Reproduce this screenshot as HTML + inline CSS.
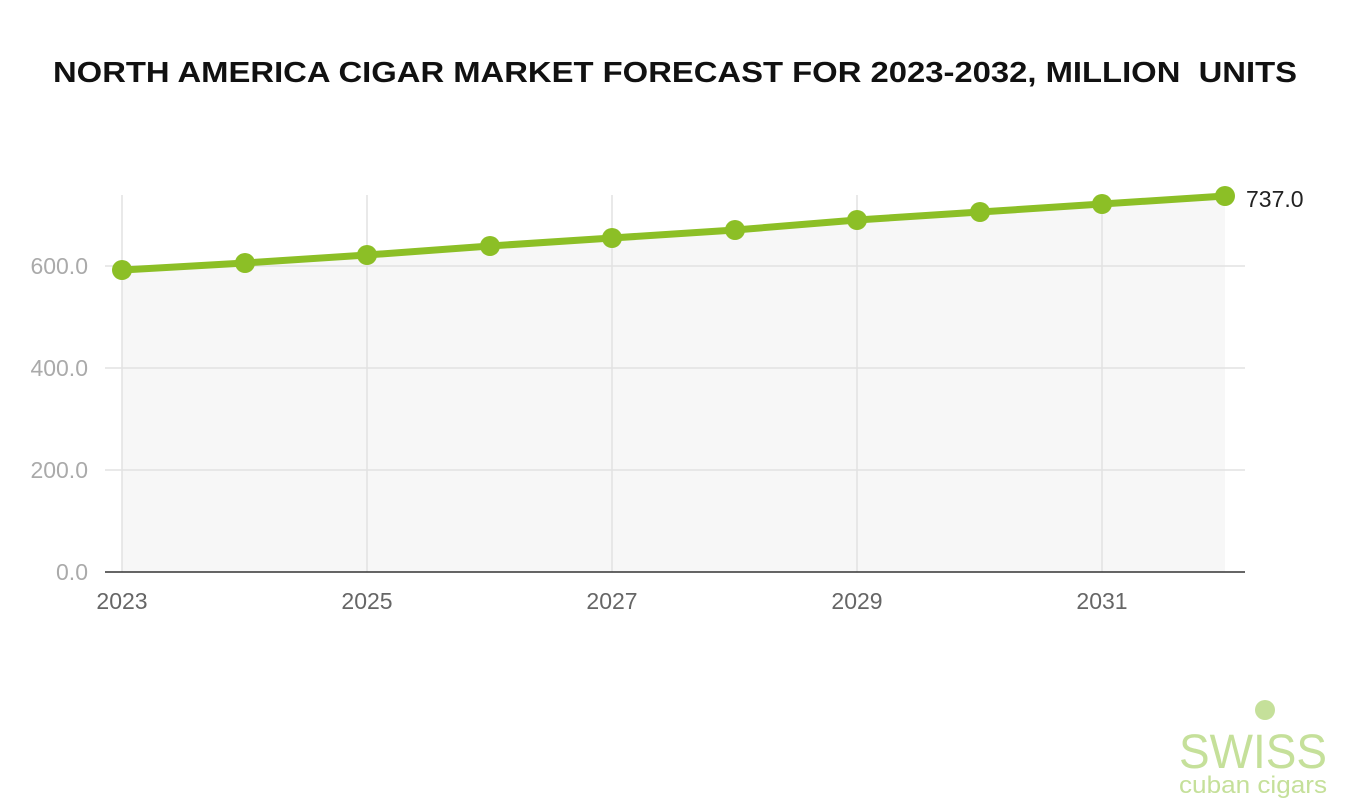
<!DOCTYPE html>
<html><head><meta charset="utf-8"><style>
body{margin:0;background:#fff;}
svg{display:block;font-family:"Liberation Sans",sans-serif;}
</style></head><body>
<svg width="1356" height="804" viewBox="0 0 1356 804">
<rect width="1356" height="804" fill="#fff"/>
<text x="53" y="82" font-size="29" font-weight="bold" fill="#111" textLength="1244" lengthAdjust="spacingAndGlyphs" xml:space="preserve">NORTH AMERICA CIGAR MARKET FORECAST FOR 2023-2032, MILLION  UNITS</text>
<polygon fill="#f7f7f7" points="122,270 245,263 367,255 490,246 612,238 735,230 857,220 980,212 1102,204 1225,196 1225,572 122,572"/>
<g stroke="#e2e2e2" stroke-width="1.5">
<line x1="105" y1="266" x2="1245" y2="266"/>
<line x1="105" y1="368" x2="1245" y2="368"/>
<line x1="105" y1="470" x2="1245" y2="470"/>
<line x1="122" y1="195" x2="122" y2="572"/>
<line x1="367" y1="195" x2="367" y2="572"/>
<line x1="612" y1="195" x2="612" y2="572"/>
<line x1="857" y1="195" x2="857" y2="572"/>
<line x1="1102" y1="195" x2="1102" y2="572"/>
</g>
<line x1="105" y1="572" x2="1245" y2="572" stroke="#333" stroke-width="1.5"/>
<g font-size="23" fill="#aaa" text-anchor="end">
<text x="88" y="274">600.0</text>
<text x="88" y="376">400.0</text>
<text x="88" y="478">200.0</text>
<text x="88" y="580">0.0</text>
</g>
<g font-size="23" fill="#666" text-anchor="middle">
<text x="122" y="609">2023</text>
<text x="367" y="609">2025</text>
<text x="612" y="609">2027</text>
<text x="857" y="609">2029</text>
<text x="1102" y="609">2031</text>
</g>
<polyline fill="none" stroke="#8cbf26" stroke-width="7" stroke-linejoin="round" points="122,270 245,263 367,255 490,246 612,238 735,230 857,220 980,212 1102,204 1225,196"/>
<g fill="#8cbf26">
<circle cx="122" cy="270" r="10"/><circle cx="245" cy="263" r="10"/><circle cx="367" cy="255" r="10"/><circle cx="490" cy="246" r="10"/><circle cx="612" cy="238" r="10"/><circle cx="735" cy="230" r="10"/><circle cx="857" cy="220" r="10"/><circle cx="980" cy="212" r="10"/><circle cx="1102" cy="204" r="10"/><circle cx="1225" cy="196" r="10"/>
</g>
<text x="1246" y="207" font-size="23" fill="#222">737.0</text>
<circle cx="1265" cy="710" r="10" fill="#c5e09a"/>
<text x="1253" y="768" text-anchor="middle" font-size="48" fill="#c5e09a" textLength="148" lengthAdjust="spacingAndGlyphs">SWISS</text>
<text x="1253" y="793" text-anchor="middle" font-size="24" fill="#c5e09a" textLength="148" lengthAdjust="spacingAndGlyphs">cuban cigars</text>
</svg>
</body></html>
